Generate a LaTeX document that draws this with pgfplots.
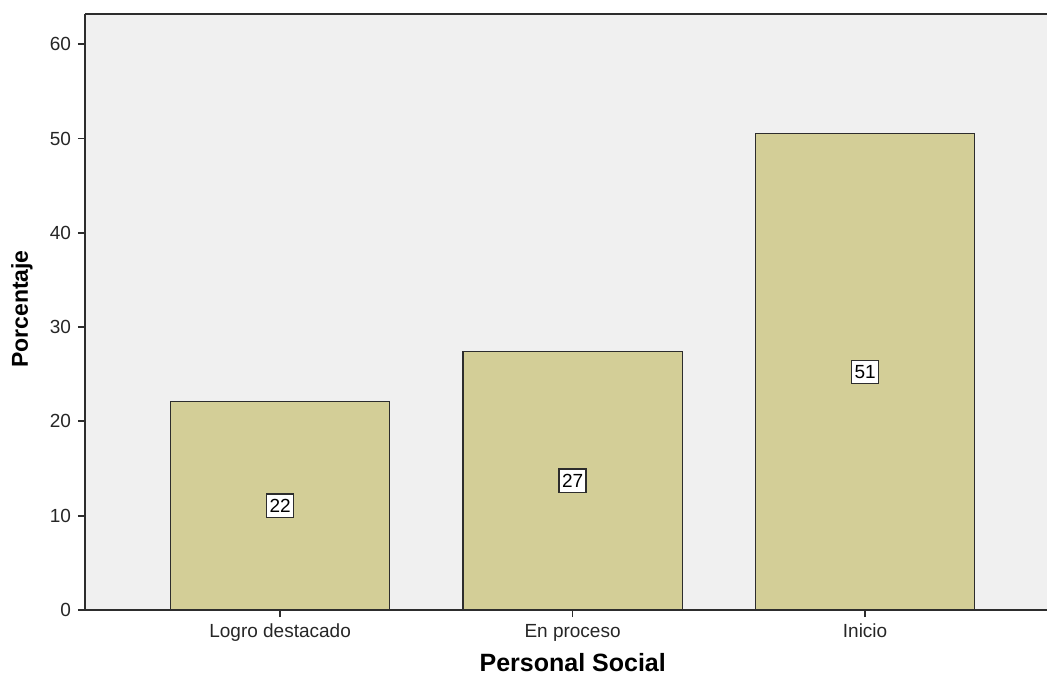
\documentclass[border=0pt]{standalone}
\usepackage{fontspec}
\setmainfont{Liberation Sans}
\usepackage{pgfplots}
\pgfplotsset{compat=1.18}
\usepackage{pgfplotstable}

\definecolor{bgback}{RGB}{240,240,240}
\definecolor{barfill}{RGB}{211,206,151}
\definecolor{axisdark}{RGB}{45,45,45}

% x, bar height, label height (middle of the bar), label
\pgfplotstableread{
x  y     mid    lab
0  22.1  11.05  22
1  27.4  13.70  27
2  50.5  25.25  51
}\personal

\begin{document}
\begin{tikzpicture}
\begin{axis}[
    at={(0,0)}, anchor=south west,
    scale only axis,
    width=481pt, height=298pt,
    axis background/.style={fill=bgback},
    xmin=-0.667, xmax=2.622,
    ymin=0, ymax=63.2,
    axis x line*=bottom, axis y line*=left,
    axis line style={-, draw=axisdark, line width=0.9pt},
    tick align=outside,
    major tick length=3.5pt,
    tick style={draw=axisdark, line width=0.9pt},
    xtick={0,1,2},
    xticklabels={Logro destacado, En proceso, Inicio},
    ytick={0,10,...,60},
    /pgf/number format/assume math mode=true,
    ticklabel style={font=\fontsize{9.5}{11}\selectfont, text=black!85},
    xlabel={Personal Social},
    ylabel={Porcentaje},
    xlabel style={font=\bfseries\fontsize{12.5}{14}\selectfont,
        at={(axis description cs:0.507,0)}, anchor=center, yshift=-26.5pt},
    ylabel style={font=\bfseries\fontsize{11.5}{13}\selectfont,
        at={(axis description cs:0,0.505)}, anchor=center, yshift=31.5pt},
    clip=false,
]
\addplot[ybar, bar width=0.75, fill=barfill, draw=axisdark, line width=0.7pt]
    table[x=x, y=y] {\personal};
\addplot[only marks, mark=none,
    nodes near coords, point meta=explicit symbolic,
    every node near coord/.style={anchor=center, fill=white, draw=axisdark,
        line width=0.75pt, inner xsep=1.5pt, inner ysep=2.5pt,
        font=\fontsize{9.5}{11}\selectfont}]
    table[x=x, y=mid, meta=lab] {\personal};
\draw[axisdark, line width=0.9pt] (rel axis cs:0,1) -- (rel axis cs:1,1);
\end{axis}
\pgfresetboundingbox
\path (-42.5pt,-32.5pt) rectangle (481.5pt,305pt);
\end{tikzpicture}
\end{document}
